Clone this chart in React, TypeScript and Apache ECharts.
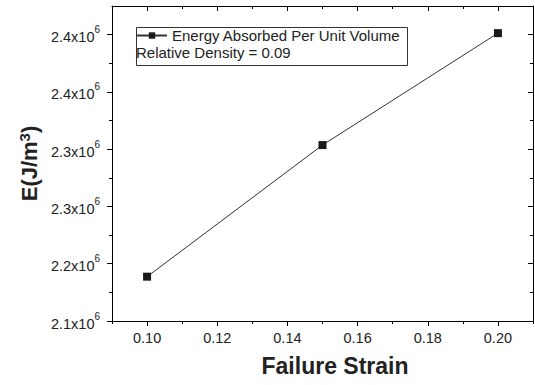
import React, { useEffect, useRef } from "react";
import * as echarts from "echarts";

const strain = [0.1, 0.15, 0.2];
const energy = [2188700, 2303600, 2401300];
const seriesName = "Energy Absorbed Per Unit Volume";
const noteText = "Relative Density = 0.09";
const xMajorTicks = [0.1, 0.12, 0.14, 0.16, 0.18, 0.2];
const xMinorTicks = [0.09, 0.11, 0.13, 0.15, 0.17, 0.19, 0.21];
const yMajorTicks = [2150000, 2200000, 2250000, 2300000, 2350000, 2400000];
const yTickLabels = ["2.1", "2.2", "2.3", "2.3", "2.4", "2.4"];
const yMinorTicks = [2175000, 2225000, 2275000, 2325000, 2375000];

const FONT = "'Liberation Sans', Arial, sans-serif";
const X_MIN = 0.09, X_MAX = 0.21, Y_MIN = 2150000, Y_MAX = 2425000;

export default function App() {
  const ref = useRef<HTMLDivElement>(null);
  useEffect(() => {
    if (!ref.current) return;
    const chart = echarts.init(ref.current, undefined, { renderer: "svg" });
    const gridRect = { left: 112, right: 2, top: 6, bottom: 64 };
    const lineStyle = { color: "#000", width: 1 };
    const yLabel = (v: number) => {
      let idx = -1;
      yMajorTicks.forEach((t, i) => { if (Math.abs(t - v) < 1) idx = i; });
      return idx >= 0 ? `{b|${yTickLabels[idx]}x10}{s|6}` : "";
    };
    chart.setOption({
      animation: false,
      textStyle: { fontFamily: FONT },
      grid: [
        { ...gridRect },
        { ...gridRect },
      ],
      legend: {
        data: [seriesName],
        left: 136,
        top: 28,
        itemWidth: 30,
        itemHeight: 8,
        itemGap: 4,
        padding: 0,
        textStyle: { fontSize: 15, color: "#222", fontFamily: FONT },
      },
      xAxis: [
        {
          type: "value", gridIndex: 0, position: "bottom", min: X_MIN, max: X_MAX,
          axisLine: { show: true, onZero: false, lineStyle },
          axisTick: { show: true, customValues: xMajorTicks, length: 5, lineStyle },
          axisLabel: { customValues: xMajorTicks, formatter: (v: number) => v.toFixed(2), fontSize: 14.5, color: "#222", margin: 9, fontFamily: FONT },
          splitLine: { show: false },
          name: "Failure Strain", nameLocation: "middle", nameGap: 33,
          nameTextStyle: { fontSize: 23, fontWeight: "bold", color: "#222", fontFamily: FONT, padding: [0, 0, 0, 25] },
        },
        {
          type: "value", gridIndex: 0, position: "top", min: X_MIN, max: X_MAX,
          axisLine: { show: true, onZero: false, lineStyle },
          axisTick: { show: true, inside: true, customValues: xMajorTicks, length: 5, lineStyle },
          axisLabel: { show: false }, splitLine: { show: false },
        },
        {
          type: "value", gridIndex: 1, position: "bottom", min: X_MIN, max: X_MAX,
          axisLine: { show: false, onZero: false },
          axisTick: { show: true, customValues: xMinorTicks, length: 3, lineStyle },
          axisLabel: { show: false }, splitLine: { show: false },
        },
        {
          type: "value", gridIndex: 1, position: "top", min: X_MIN, max: X_MAX,
          axisLine: { show: false, onZero: false },
          axisTick: { show: true, inside: true, customValues: xMinorTicks, length: 3, lineStyle },
          axisLabel: { show: false }, splitLine: { show: false },
        },
      ],
      yAxis: [
        {
          type: "value", gridIndex: 0, position: "left", min: Y_MIN, max: Y_MAX,
          axisLine: { show: true, onZero: false, lineStyle },
          axisTick: { show: true, customValues: yMajorTicks, length: 5, lineStyle },
          axisLabel: {
            customValues: yMajorTicks, formatter: yLabel, margin: 12,
            rich: {
              b: { fontSize: 14.5, color: "#222", fontFamily: FONT, verticalAlign: "bottom", lineHeight: 20 },
              s: { fontSize: 10, color: "#222", fontFamily: FONT, verticalAlign: "top", lineHeight: 20 },
            },
          },
          splitLine: { show: false },
          name: "E(J/m{s|3})", nameLocation: "middle", nameGap: 70,
          nameTextStyle: {
            fontSize: 22, fontWeight: "bold", color: "#222", fontFamily: FONT,
            rich: {
              s: { fontSize: 15, fontWeight: "bold", color: "#222", fontFamily: FONT, verticalAlign: "top", padding: [0, 0, 10, 0] },
            },
          },
        },
        {
          type: "value", gridIndex: 0, position: "right", min: Y_MIN, max: Y_MAX,
          axisLine: { show: true, onZero: false, lineStyle },
          axisTick: { show: true, inside: true, customValues: yMajorTicks, length: 5, lineStyle },
          axisLabel: { show: false }, splitLine: { show: false },
        },
        {
          type: "value", gridIndex: 1, position: "left", min: Y_MIN, max: Y_MAX,
          axisLine: { show: false, onZero: false },
          axisTick: { show: true, customValues: yMinorTicks, length: 3, lineStyle },
          axisLabel: { show: false }, splitLine: { show: false },
        },
        {
          type: "value", gridIndex: 1, position: "right", min: Y_MIN, max: Y_MAX,
          axisLine: { show: false, onZero: false },
          axisTick: { show: true, inside: true, customValues: yMinorTicks, length: 3, lineStyle },
          axisLabel: { show: false }, splitLine: { show: false },
        },
      ],
      graphic: [
        {
          type: "rect", left: 134, top: 25, z: 10,
          shape: { width: 271, height: 38 },
          style: { fill: "none", stroke: "#333", lineWidth: 1 },
        },
        {
          type: "text", left: 136, top: 45, z: 10,
          style: { text: noteText, fontSize: 15, fill: "#222", fontFamily: FONT },
        },
      ],
      series: [
        {
          name: seriesName, type: "line", xAxisIndex: 0, yAxisIndex: 0,
          data: strain.map((x, i) => [x, energy[i]]),
          symbol: "rect", symbolSize: 8,
          lineStyle: { color: "#333", width: 1 },
          itemStyle: { color: "#1a1a1a" },
        },
      ],
    });
    return () => chart.dispose();
  }, []);
  return <div ref={ref} style={{ width: 535, height: 385, position: "absolute", left: 0, top: 0 }} />;
}
